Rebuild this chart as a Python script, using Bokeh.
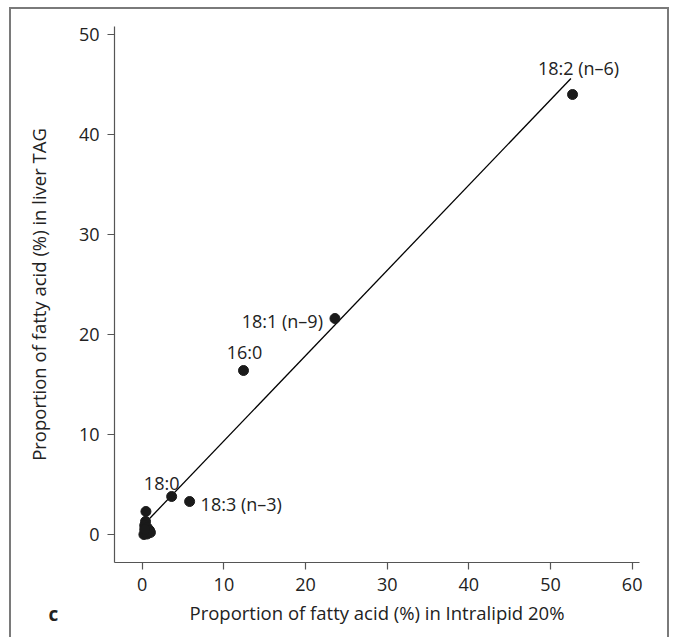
from bokeh.plotting import figure
from bokeh.models import Range1d, ColumnDataSource, FixedTicker, Title
from bokeh.core.properties import value
from bokeh.embed import file_html
from bokeh.resources import INLINE

# ---- data ----
fatty_acids = ["18:2 (n\u20136)", "18:1 (n\u20139)", "16:0", "18:0", "18:3 (n\u20133)"]
intralipid_pct = [52.7, 23.6, 12.4, 3.6, 5.8]
liver_tag_pct = [44.0, 21.6, 16.4, 3.8, 3.3]

minor_intralipid_pct = [0.45, 0.4, 0.3, 0.6, 0.9, 0.4, 0.2, 0.6, 1.0, 0.3]
minor_liver_tag_pct = [2.3, 1.3, 0.9, 0.7, 0.4, 0.2, 0.0, 0.05, 0.2, 0.5]

fit_x = [0.9, 52.5]
fit_y = [1.6, 45.6]

x_ticks = [0, 10, 20, 30, 40, 50, 60]
y_ticks = [0, 10, 20, 30, 40, 50]

x_title = "Proportion of fatty acid (%) in Intralipid 20%"
y_title = "Proportion of fatty acid (%) in liver TAG"
panel_letter = "c"

# ---- label styling (screen offsets, alignment) ----
label_dx = [6, -12, 1, -10, 11]
label_dy = [-27, 2, -19, -14, 2]
label_align = ["center", "right", "center", "center", "left"]

FONT = "Open Sans"
TEXT_COLOR = "#222222"

p = figure(width=660, height=630,
           x_range=Range1d(-3.4, 60.9), y_range=Range1d(-2.8, 50.8),
           output_backend="svg", toolbar_location=None,
           min_border_left=103, min_border_right=32,
           min_border_top=17, min_border_bottom=77)

# outer grey frame of the panel (drawn by CSS around the canvas)
p.styles = {"margin-left": "9px", "margin-top": "7px",
            "border-style": "solid", "border-color": "#7a7a7a",
            "border-width": "2px 2px 0px 2px"}

p.background_fill_color = "white"
p.border_fill_color = "white"
p.outline_line_color = None
p.xgrid.grid_line_color = None
p.ygrid.grid_line_color = None

for ax in (p.xaxis[0], p.yaxis[0]):
    ax.axis_line_color = "#555555"
    ax.axis_line_width = 1.2
    ax.major_tick_line_color = "#555555"
    ax.major_tick_line_width = 1.2
    ax.major_tick_in = 0
    ax.major_tick_out = 7
    ax.minor_tick_line_color = None
    ax.major_label_text_font = FONT
    ax.major_label_text_font_size = "18px"
    ax.major_label_text_color = TEXT_COLOR
    ax.axis_label_text_font = FONT
    ax.axis_label_text_font_size = "18.5px"
    ax.axis_label_text_font_style = "normal"
    ax.axis_label_text_color = TEXT_COLOR

p.xaxis.ticker = FixedTicker(ticks=x_ticks)
p.yaxis.ticker = FixedTicker(ticks=y_ticks)
p.xaxis.axis_label = x_title
p.yaxis.axis_label = y_title
p.xaxis.major_label_standoff = 8
p.yaxis.major_label_standoff = 8
p.xaxis.axis_label_standoff = 6
p.yaxis.axis_label_standoff = 25

# regression line
p.line(fit_x, fit_y, line_color="black", line_width=1.3)

# points
p.scatter(minor_intralipid_pct, minor_liver_tag_pct, size=10,
          fill_color="#1a1a1a", line_color="#1a1a1a")
src = ColumnDataSource(dict(x=intralipid_pct, y=liver_tag_pct, name=fatty_acids,
                            dx=label_dx, dy=label_dy, align=label_align))
p.scatter("x", "y", source=src, size=10, fill_color="#1a1a1a", line_color="#1a1a1a")
p.text("x", "y", text="name", source=src, x_offset="dx", y_offset="dy",
       text_align="align", text_baseline="middle",
       text_font=value(FONT), text_font_size="18px", text_color=TEXT_COLOR)

# panel letter, pulled up onto the x-title line
letter = Title(text=panel_letter, align="left", vertical_align="top",
               offset=-66, standoff=-54,
               text_font=FONT, text_font_size="19px", text_font_style="bold",
               text_color=TEXT_COLOR)
p.add_layout(letter, "below")

open("out.html", "w").write(file_html(p, INLINE))
